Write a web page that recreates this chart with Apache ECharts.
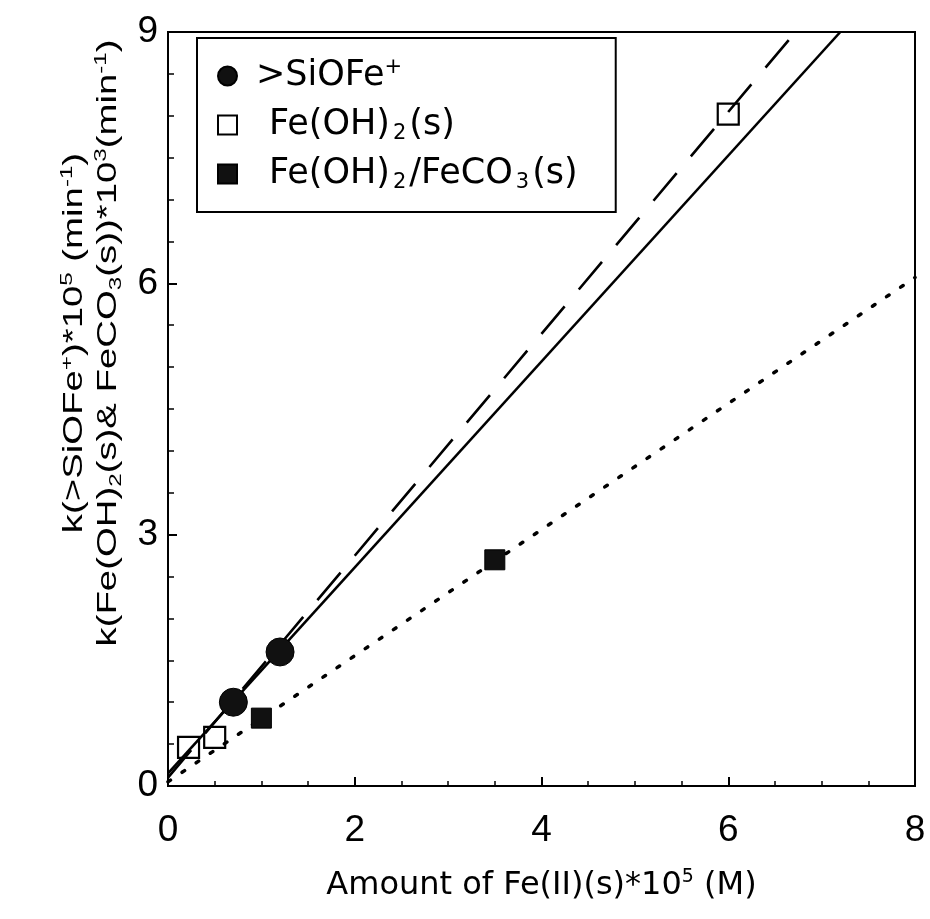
<!DOCTYPE html>
<html><head><meta charset="utf-8">
<script src="https://cdn.jsdelivr.net/npm/echarts@6/dist/echarts.min.js"></script>
<style>html,body{margin:0;padding:0;background:#fff}#c{width:930px;height:919px}</style>
</head><body><div id="c"></div>
<script>
// Data
const siofeX = [0.7, 1.2];
const siofeY = [1.0, 1.6];
const feoh2X = [0.22, 0.5, 6.0];
const feoh2Y = [0.46, 0.58, 8.02];
const feco3X = [1.0, 3.5];
const feco3Y = [0.81, 2.7];
// fitted lines (end points)
const solidFitX = [0, 7.2];
const solidFitY = [0.15, 9];
const dashFitX = [0, 6.72];
const dashFitY = [0.1, 9];
const dotFitX = [0, 8];
const dotFitY = [0.05, 6.07];
const xTicks = ['0', '2', '4', '6', '8'];
const yTicks = ['0', '3', '6', '9'];
const seriesNames = ['> SiOFe+', 'Fe(OH)2(s)', 'Fe(OH)2/FeCO3(s)'];
const seriesLabels = ['>SiOFe{sup|+}', '{sp| }Fe(OH){sub|2}(s)', '{sp| }Fe(OH){sub|2}/FeCO{sub|3}(s)'];
const yTitle1 = 'k(>SiOFe{sup|+})*10{sup|5} (min{sup|-1})';
const yTitle2 = 'k(Fe(OH){sub|2}(s)& FeCO{sub|3}(s))*10{sup|3}(min{sup|-1})';
const xTitle = 'Amount of Fe(II)(s)*10{sup|5} (M)';

const zip = (a, b) => a.map((v, i) => [v, b[i]]);
const FONT = 'Liberation Sans';
const WIDE = 'DejaVu Sans';

const yTitleRich = {
  sup: {fontFamily: FONT, fontSize: 17, verticalAlign: 'top', lineHeight: 32, padding: [0, 0, 8, 0], fill: '#000'},
  sub: {fontFamily: FONT, fontSize: 17, verticalAlign: 'bottom', lineHeight: 32, padding: [10, 0, 0, 0], fill: '#000'}
};
function yTitleGraphic(text, x) {
  return {
    type: 'text', x: x, y: 343, rotation: Math.PI / 2, scaleX: 1.42, scaleY: 1,
    silent: true,
    style: {text: text, fontFamily: FONT, fontSize: 27, lineHeight: 32, fill: '#000',
      align: 'center', verticalAlign: 'middle', rich: yTitleRich}
  };
}

const chart = echarts.init(document.getElementById('c'), null, {renderer: 'canvas'});
const lineBase = {type: 'line', showSymbol: false, symbol: 'none', silent: true, clip: true, z: 1};
chart.setOption({
  backgroundColor: '#fff',
  animation: false,
  textStyle: {fontFamily: FONT, color: '#000'},
  grid: {left: 168, right: 15, top: 32, bottom: 133, show: true, borderColor: '#000', borderWidth: 2},
  graphic: [yTitleGraphic(yTitle1, 75), yTitleGraphic(yTitle2, 109)],
  legend: {
    data: seriesNames,
    orient: 'vertical',
    left: 197, top: 38,
    padding: [19, 38, 19, 20],
    itemGap: 11,
    itemWidth: 19, itemHeight: 19,
    borderColor: '#000', borderWidth: 2,
    backgroundColor: '#fff',
    formatter: n => seriesLabels[seriesNames.indexOf(n)],
    textStyle: {
      fontFamily: WIDE, fontSize: 35, color: '#000', lineHeight: 38, padding: [0, 0, 0, 14],
      rich: {
        sp: {fontFamily: WIDE, fontSize: 12, width: 13, lineHeight: 38},
        sup: {fontFamily: WIDE, fontSize: 21, verticalAlign: 'top', lineHeight: 38, padding: [0, 0, 10, 0]},
        sub: {fontFamily: WIDE, fontSize: 21, verticalAlign: 'bottom', lineHeight: 38, padding: [12, 3, 0, 3]}
      }
    }
  },
  xAxis: {
    type: 'value', min: 0, max: 8, interval: 2,
    axisLine: {lineStyle: {color: '#000', width: 2}},
    axisTick: {inside: true, length: 9, lineStyle: {color: '#000', width: 2}},
    minorTick: {show: true, splitNumber: 4, length: 5, lineStyle: {color: '#000', width: 1.5}},
    splitLine: {show: false},
    axisLabel: {fontFamily: FONT, fontSize: 37, color: '#000', margin: 26,
      formatter: v => xTicks[Math.round(v / 2)]},
    name: xTitle,
    nameLocation: 'middle', nameGap: 82,
    nameTextStyle: {fontFamily: WIDE, fontSize: 32, color: '#000', lineHeight: 36,
      rich: {sup: {fontFamily: WIDE, fontSize: 19, verticalAlign: 'top', lineHeight: 36, padding: [0, 0, 8, 0]}}}
  },
  yAxis: {
    type: 'value', min: 0, max: 9, interval: 3,
    axisLine: {lineStyle: {color: '#000', width: 2}},
    axisTick: {inside: true, length: 9, lineStyle: {color: '#000', width: 2}},
    minorTick: {show: true, splitNumber: 6, length: 6, lineStyle: {color: '#000', width: 1.5}},
    splitLine: {show: false},
    axisLabel: {fontFamily: FONT, fontSize: 37, color: '#000', margin: 10,
      formatter: v => yTicks[Math.round(v / 3)]}
  },
  series: [
    Object.assign({}, lineBase, {name: 'fit1', data: zip(solidFitX, solidFitY),
      lineStyle: {color: '#000', width: 2.6}}),
    Object.assign({}, lineBase, {name: 'fit2', data: zip(dashFitX, dashFitY),
      lineStyle: {color: '#000', width: 2.6, type: [36, 22]}}),
    Object.assign({}, lineBase, {name: 'fit3', data: zip(dotFitX, dotFitY),
      lineStyle: {color: '#000', width: 3.5, type: [3, 14], cap: 'round'}}),
    {type: 'scatter', name: seriesNames[0], data: zip(siofeX, siofeY), symbol: 'circle', symbolSize: 28,
      itemStyle: {color: '#111', borderColor: '#000', borderWidth: 1, opacity: 1}, z: 3},
    {type: 'scatter', name: seriesNames[1], data: zip(feoh2X, feoh2Y), symbol: 'rect', symbolSize: 21,
      itemStyle: {color: 'rgba(255,255,255,0)', borderColor: '#000', borderWidth: 2.2, opacity: 1}, z: 3},
    {type: 'scatter', name: seriesNames[2], data: zip(feco3X, feco3Y), symbol: 'rect', symbolSize: 20,
      itemStyle: {color: '#111', borderColor: '#000', borderWidth: 1, opacity: 1}, z: 3}
  ]
});
</script></body></html>
